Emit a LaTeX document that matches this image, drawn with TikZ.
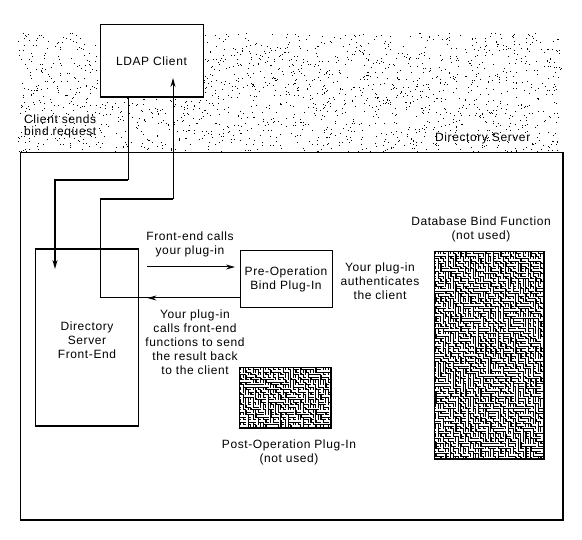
\documentclass[tikz,border=0pt]{standalone}
\usepackage{fontspec}
\setmainfont{Liberation Sans}[LetterSpace=5]
\usetikzlibrary{arrows.meta,decorations.markings}
\tikzset{
  thinln/.style={line width=1pt},
  thickln/.style={line width=2pt},
  tip/.style={-{Stealth[length=9pt,width=5pt]}},
  midarrow/.style={decoration={markings,mark=at position #1 with {\arrow{Stealth[length=9pt,width=5pt]}}},postaction={decorate}},
  boxnode/.style={draw,line width=1pt,inner sep=0pt},
  lbl/.style={inner sep=0pt,align=center},
}
\newcommand\mazefill[4]{%
  \begin{scope}
    \clip (#1,#2) rectangle (#3,#4);
    \fill[black] (#1,#2) rectangle (#3,#4);
    \begin{scope}[shift={(#1,#2)}]
      \pgfmathtruncatemacro\mw{(#3-#1)/2.5}
      \pgfmathtruncatemacro\mh{(#4-#2)/2.5}
      \foreach \i in {0,...,\mw}{
        \foreach \j in {0,...,\mh}{
          \pgfmathrandominteger{\r}{0}{1}
          \ifnum\r=0
            \draw[white,line width=1.25pt] (2.5*\i,2.5*\j+0.6) -- ++(2.5,0);
          \else
            \draw[white,line width=1.25pt] (2.5*\i+0.6,2.5*\j) -- ++(0,2.5);
          \fi
        }
      }
    \end{scope}
  \end{scope}
}
\begin{document}
\begin{tikzpicture}[x=1pt,y=-1pt,font=\fontsize{12}{14}\selectfont]
\useasboundingbox (0,0) rectangle (582,540);
\fill[white] (0,0) rectangle (582,540);
% stipple background
\pgfmathsetseed{11}
\foreach \k in {1,...,1900}{
  \pgfmathsetmacro\px{18+544*rnd}
  \pgfmathsetmacro\py{33+119*rnd}
  \fill[black] (\px,\py) rectangle ++(1,1);
}
% boxes
\node[boxnode,fill=white,minimum width=103pt,minimum height=72pt] (ldap) at (151.5,61) {LDAP Client};
\draw[thickln] (ldap.south west) -- (ldap.south east);
\node[boxnode,fill=white,minimum width=542pt,minimum height=367pt] (ds) at (291,336.5) {};
\draw[thickln] (ds.north east) -- (ds.south east) -- (ds.south west);
\node[boxnode,minimum width=103pt,minimum height=176pt] (fe) at (86.5,338) {};
\draw[thickln] (fe.north west) -- (fe.north east);
\draw[thickln] (fe.south west) -- (fe.south east);
\node[boxnode,minimum width=92pt,minimum height=57pt] (pre) at (286,279.5) {};
% pattern boxes
\pgfmathsetseed{5}
\mazefill{239}{368}{330}{428}
\node[boxnode,minimum width=91pt,minimum height=60pt] (post) at (284.5,398) {};
\draw[thickln] (post.north east) -- (post.south east) -- (post.south west);
\mazefill{434}{252}{543}{459}
\node[boxnode,minimum width=109pt,minimum height=207pt] (db) at (488.5,355.5) {};
\draw[thickln] (db.north east) -- (db.south east) -- (db.south west);
% labels
\node[lbl,anchor=west] (csend) at (24,126.5) {\begin{tabular}{@{}l@{}}Client sends\\[-2pt]bind request\end{tabular}};
\node[lbl,anchor=west] (dslbl) at (435,138) {Directory Server};
\node[lbl] (felbl) at (87,340) {Directory\\Server\\Front-End};
\node[lbl] (prelbl) at (pre) {Pre-Operation\\Bind Plug-In};
\node[lbl] (calls) at (190,244) {Front-end calls\\your plug-in};
\node[lbl] (ret) at (195,342) {Your plug-in\\calls front-end\\functions to send\\the result back\\to the client};
\node[lbl] (auth) at (380,281) {Your plug-in\\authenticates\\the client};
\node[lbl] (dblbl) at (481,229) {Database Bind Function\\(not used)};
\node[lbl] (postlbl) at (289,452) {Post-Operation Plug-In\\(not used)};
% connectors
\coordinate (b1) at (128,180);
\coordinate (b2) at (55,180);
\coordinate (b3) at (55,269);
\draw[thinln] (ldap.south -| b1) -- (b1);
\draw[thickln,tip] (b1) -- (b2) -- (b3);
\coordinate (f1) at (147,267);
\coordinate (f2) at (235,267);
\draw[thinln,tip] (f1) -- (f2);
\coordinate (r1) at (100,298);
\coordinate (r2) at (100,199);
\coordinate (r3) at (173,199);
\coordinate (r4) at (173,78);
\draw[thinln,midarrow=0.66] (pre.west |- r1) -- (r1);
\draw[thinln] (r1) -- (r2);
\draw[thickln] (r2) -- (r3);
\draw[thinln,tip] (r3) -- (r4);
\end{tikzpicture}
\end{document}
